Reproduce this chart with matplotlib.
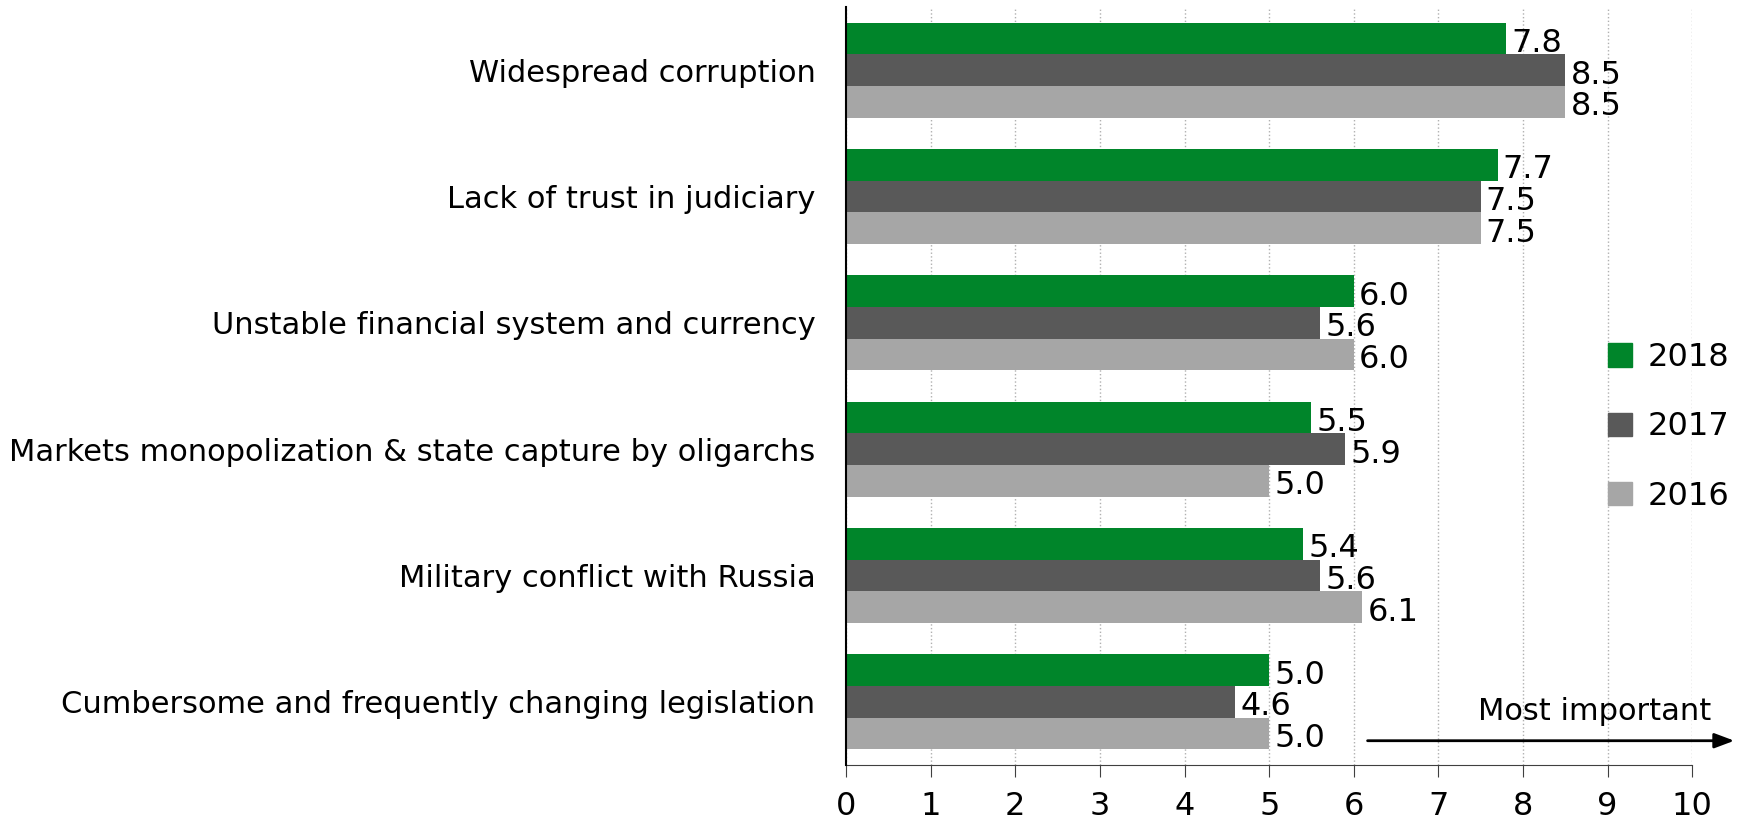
import numpy as np
import matplotlib
matplotlib.use("Agg")
from matplotlib import pyplot as plt
from matplotlib.patches import Patch

categories = ['Widespread corruption',
              'Lack of trust in judiciary',
              'Unstable financial system and currency',
              'Markets monopolization & state capture by oligarchs',
              'Military conflict with Russia',
              'Cumbersome and frequently changing legislation']
years = ['2018', '2017', '2016']
v2018 = [7.8, 7.7, 6.0, 5.5, 5.4, 5.0]
v2017 = [8.5, 7.5, 5.6, 5.9, 5.6, 4.6]
v2016 = [8.5, 7.5, 6.0, 5.0, 6.1, 5.0]
xticks = list(range(0, 11))

colors = ['#00852a', '#595959', '#a6a6a6']
fs = 22
fs_num = 23

fig = plt.figure(figsize=(17.41, 8.27), dpi=100)
ax = fig.add_axes([0.486, 0.075, 0.486, 0.9165])

y = np.arange(len(categories))
h = 0.25
for k, vals in enumerate([v2018, v2017, v2016]):
    pos = y + (k - 1) * h
    ax.barh(pos, vals, height=h, color=colors[k], zorder=3)
    for p, v in zip(pos, vals):
        ax.text(v + 0.06, p + 0.04, '{:.1f}'.format(v), ha='left', va='center',
                fontsize=fs_num, zorder=4)

ax.set_ylim(len(categories) - 0.5, -0.5)
ax.set_xlim(0, 10)
ax.set_yticks(y)
ax.set_yticklabels(categories, fontsize=fs)
ax.tick_params(axis='y', length=0, pad=22)
ax.set_xticks(xticks)
ax.set_xticklabels([str(t) for t in xticks], fontsize=fs_num)
ax.tick_params(axis='x', length=8.5, color='#404040', pad=10, direction='out')

ax.grid(axis='x', color='#b0b0b0', linestyle=':', linewidth=1, zorder=0)
for s in ['top', 'right']:
    ax.spines[s].set_visible(False)
ax.spines['left'].set_color('black')
ax.spines['left'].set_linewidth(1.5)
ax.spines['bottom'].set_color('#404040')
ax.spines['left'].set_zorder(5)

# legend
handles = [Patch(color=c, label=l) for c, l in zip(colors, years)]
ax.legend(handles=handles, loc='center left', bbox_to_anchor=(0.885, 0.446),
          frameon=False, fontsize=fs_num, handlelength=0.75, handleheight=0.75,
          handletextpad=0.5, labelspacing=1.2, borderaxespad=0)

# arrow
ax.annotate('', xy=(1.053, 0.032), xytext=(0.613, 0.032),
            xycoords='axes fraction', textcoords='axes fraction',
            arrowprops=dict(arrowstyle='-|>,head_length=1.2,head_width=0.45',
                            color='black', lw=2), annotation_clip=False)
ax.text(1.023, 0.052, 'Most important', transform=ax.transAxes,
        ha='right', va='bottom', fontsize=fs)

fig.savefig('out.png', dpi=100)
